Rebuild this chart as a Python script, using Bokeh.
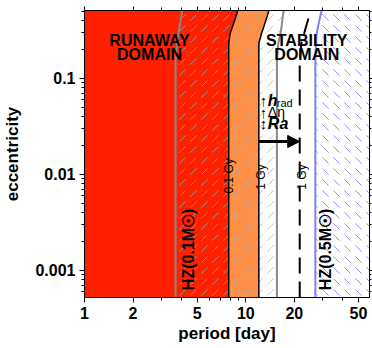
import math
from bokeh.plotting import figure
from bokeh.models import (Range1d, LogAxis, FixedTicker, CustomJSTickFormatter,
                          Arrow, NormalHead)
from bokeh.core.properties import value
from bokeh.embed import file_html
from bokeh.resources import INLINE

# ---------------- data ----------------
ecc = [0.00052, 0.15, 0.23, 0.29, 0.35, 0.42, 0.507]
# period [day] of each boundary at the eccentricities above
hz01_inner = [3.67, 3.67, 3.75, 3.83, 3.89, 3.96, 4.04]      # gray, HZ(0.1 Msun) inner edge
tide_01gy = [7.84, 7.84, 7.84, 7.99, 8.30, 8.62, 8.93]       # black, 0.1 Gy
tide_1gy = [12.05, 12.05, 12.05, 12.5, 12.98, 13.45, 13.92]  # black, 1 Gy
hz01_outer = [15.6, 15.6, 15.9, 16.4, 16.7, 16.9, 17.2]      # gray, HZ(0.1 Msun) outer edge
stab_1gy = [21.6, 21.6, 22.1, 23.0, 23.7, 24.5, 25.2]        # dashed, 1 Gy
hz05_inner = [27.0, 27.0, 27.2, 27.5, 28.1, 28.8, 29.5]      # blue, HZ(0.5 Msun) inner edge

x_major = [1, 2, 5, 10, 20, 50]
x_minor = [3, 4, 6, 7, 8, 9, 30, 40]
y_major = [0.001, 0.01, 0.1]
y_minor = [k * 10.0 ** n for n in (-4, -3, -2, -1) for k in range(2, 10)]

x_lo, x_hi = 1.0, 58.5
y_lo, y_hi = 0.00052, 0.507

FONT_NAME = "Liberation Sans"
FONT = value(FONT_NAME)

p = figure(width=372, height=348, x_axis_type="log", y_axis_type="log",
           x_range=Range1d(x_lo, x_hi), y_range=Range1d(y_lo, y_hi),
           output_backend="svg", toolbar_location=None,
           min_border_left=84, min_border_right=3, min_border_top=10,
           min_border_bottom=51)
p.xgrid.visible = False
p.ygrid.visible = False
p.outline_line_color = "black"
p.outline_line_width = 1
p.background_fill_color = "white"


def band(left, right):
    xs = list(left) + list(reversed(right))
    ys = list(ecc) + list(reversed(ecc))
    return xs, ys


left_edge = [x_lo * 0.5] * len(ecc)
right_edge = [x_hi * 2] * len(ecc)

HATCH = dict(hatch_scale=11, hatch_weight=1)

# plain red (runaway) up to the 0.1 Gy line
xs, ys = band(left_edge, tide_01gy)
p.patch(xs, ys, fill_color="#FF2000", line_color=None)
# hatched part of the red region
xs, ys = band(hz01_inner, tide_01gy)
p.patch(xs, ys, fill_alpha=0, line_color=None, hatch_pattern=",",
        hatch_color="#a0a0a0", hatch_alpha=0.8, **HATCH)
# orange region
xs, ys = band(tide_01gy, tide_1gy)
p.patch(xs, ys, fill_color="#FF9148", line_color=None, hatch_pattern=",",
        hatch_color="#a0a0a0", hatch_alpha=0.8, **HATCH)
# white hatched region
xs, ys = band(tide_1gy, hz01_outer)
p.patch(xs, ys, fill_color="white", line_color=None, hatch_pattern=",",
        hatch_color="#b8b8b8", hatch_alpha=0.8, **HATCH)
# blue hatched region
xs, ys = band(hz05_inner, right_edge)
p.patch(xs, ys, fill_color="white", line_color=None, hatch_pattern="`",
        hatch_color="#7878FF", hatch_alpha=0.8, **HATCH)

# boundary lines
p.line(hz01_inner, ecc, line_color="#888888", line_width=2)
p.line(tide_01gy, ecc, line_color="black", line_width=1.5)
p.line(tide_1gy, ecc, line_color="black", line_width=1.5)
p.line(hz01_outer, ecc, line_color="#888888", line_width=2)
p.line(stab_1gy, ecc, line_color="black", line_width=2, line_dash="16 8")
p.line(hz05_inner, ecc, line_color="#8080FF", line_width=2)

# arrow from the 1 Gy line to the stability line
arrow_e = 0.0219
p.add_layout(Arrow(end=NormalHead(size=12, fill_color="black", line_color="black"),
                   x_start=tide_1gy[0], y_start=arrow_e,
                   x_end=stab_1gy[0], y_end=arrow_e,
                   line_width=3, line_color="black"))

# domain labels
p.text(x=[2.53, 23.9], y=[0.209, 0.209], text=["RUNAWAY\nDOMAIN", "STABILITY\nDOMAIN"],
       text_font=FONT, text_font_style="bold", text_font_size="16px",
       text_align="center", text_baseline="middle", text_line_height=0.85,
       text_color="black")

# HZ labels (vertical)
p.text(x=[4.43, 31.0], y=[0.00062, 0.00062], text=["HZ(0.1M☉)", "HZ(0.5M☉)"],
       angle=math.pi / 2, text_font=FONT, text_font_style="bold",
       text_font_size="16px", text_align="left", text_baseline="middle",
       text_color="black")

# time labels (vertical)
p.text(x=[7.84, 12.4, 22.4], y=[0.0063, 0.0069, 0.0069],
       text=["0.1 Gy", "1 Gy", "1 Gy"], angle=math.pi / 2, text_font=FONT,
       text_font_size="12px", text_align="left", text_baseline="middle",
       text_color="black")

# parameter annotations next to arrow
ax = tide_1gy[0]
rows = [0.0586, 0.0440, 0.0337]
p.text(x=[ax] * 3, y=rows, text=["↑", "↑", "↕"], x_offset=1,
       text_font=FONT, text_font_size="15px",
       text_align="left", text_baseline="middle", text_color="black")
p.text(x=[ax, ax], y=[rows[0], rows[2]], text=["h", "Ra"], x_offset=9,
       text_font=FONT, text_font_style="bold italic", text_font_size="16px",
       text_align="left", text_baseline="middle", text_color="black")
p.text(x=[ax], y=[rows[0]], text=["rad"], x_offset=18, y_offset=3,
       text_font=FONT, text_font_size="11px",
       text_align="left", text_baseline="middle", text_color="black")
p.text(x=[ax], y=[rows[1]], text=["Δη"], x_offset=9,
       text_font=FONT, text_font_size="14px",
       text_align="left", text_baseline="middle", text_color="black")

# axes
fmt = CustomJSTickFormatter(code="return String(+tick.toPrecision(6));")
blank = CustomJSTickFormatter(code="return '';")


def style(ax_):
    ax_.axis_line_color = "black"
    ax_.major_tick_line_color = "black"
    ax_.minor_tick_line_color = "black"
    ax_.major_tick_out = 5
    ax_.major_tick_in = 0
    ax_.minor_tick_out = 3
    ax_.minor_tick_in = 0
    ax_.major_label_text_font = FONT_NAME
    ax_.major_label_text_font_style = "bold"
    ax_.major_label_text_font_size = "16px"
    ax_.major_label_text_color = "black"
    ax_.axis_label_text_font = FONT_NAME
    ax_.axis_label_text_font_style = "bold"
    ax_.axis_label_text_font_size = "17px"
    ax_.axis_label_text_color = "black"


xa = p.xaxis[0]
xa.ticker = FixedTicker(ticks=x_major, minor_ticks=x_minor)
xa.formatter = fmt
style(xa)
xa.axis_label = "period [day]"
xa.major_label_standoff = 4
xa.axis_label_standoff = 2

ya = p.yaxis[0]
ya.ticker = FixedTicker(ticks=y_major, minor_ticks=y_minor)
ya.formatter = fmt
style(ya)
ya.axis_label = "eccentricity"
ya.major_label_standoff = 4
ya.axis_label_standoff = 10

top = LogAxis(ticker=FixedTicker(ticks=x_major, minor_ticks=x_minor), formatter=blank)
style(top)
top.major_label_text_font_size = "1px"
top.major_label_standoff = 0
top.major_tick_out = 4
p.add_layout(top, "above")

right = LogAxis(ticker=FixedTicker(ticks=y_major, minor_ticks=y_minor), formatter=blank)
style(right)
right.major_label_text_font_size = "1px"
right.major_label_standoff = 0
right.major_tick_out = 3
right.minor_tick_out = 2
p.add_layout(right, "right")

open("out.html", "w").write(file_html(p, INLINE))
